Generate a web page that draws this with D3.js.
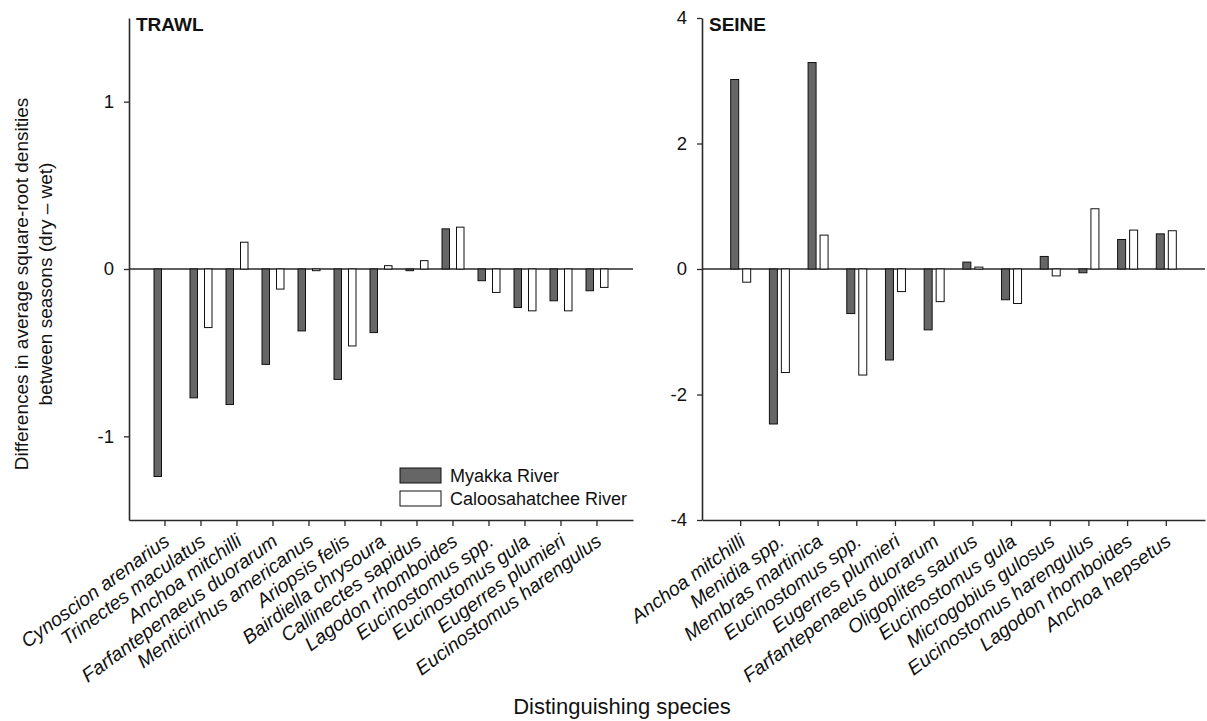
<!DOCTYPE html>
<html>
<head>
<meta charset="utf-8">
<script src="https://cdn.jsdelivr.net/npm/d3@7/dist/d3.min.js"></script>
<style>
  html, body { margin: 0; padding: 0; background: #fff; }
  svg { display: block; font-family: "Liberation Sans", Arial, sans-serif; }
</style>
</head>
<body>
<svg id="chart" width="1207" height="721"></svg>
<script>
// ---------- DATA ----------
const seriesNames = ["Myakka River", "Caloosahatchee River"];

const trawlSpecies = ["Cynoscion arenarius", "Trinectes maculatus", "Anchoa mitchilli",
  "Farfantepenaeus duorarum", "Menticirrhus americanus", "Ariopsis felis",
  "Bairdiella chrysoura", "Callinectes sapidus", "Lagodon rhomboides",
  "Eucinostomus spp.", "Eucinostomus gula", "Eugerres plumieri", "Eucinostomus harengulus"];
const trawlMyakka = [-1.24, -0.77, -0.81, -0.57, -0.37, -0.66, -0.38, -0.01, 0.24, -0.07, -0.23, -0.19, -0.13];
const trawlCaloosa = [null, -0.35, 0.16, -0.12, -0.01, -0.46, 0.02, 0.05, 0.25, -0.14, -0.25, -0.25, -0.11];
const trawlTicks = [-1, 0, 1];
const trawlTickLabels = ["-1", "0", "1"];

const seineSpecies = ["Anchoa mitchilli", "Menidia spp.", "Membras martinica",
  "Eucinostomus spp.", "Eugerres plumieri", "Farfantepenaeus duorarum",
  "Oligoplites saurus", "Eucinostomus gula", "Microgobius gulosus",
  "Eucinostomus harengulus", "Lagodon rhomboides", "Anchoa hepsetus"];
const seineMyakka = [3.02, -2.47, 3.29, -0.71, -1.45, -0.97, 0.11, -0.49, 0.20, -0.06, 0.47, 0.56];
const seineCaloosa = [-0.21, -1.65, 0.54, -1.69, -0.36, -0.52, 0.03, -0.55, -0.11, 0.96, 0.62, 0.61];
const seineTicks = [-4, -2, 0, 2, 4];
const seineTickLabels = ["-4", "-2", "0", "2", "4"];

// ---------- DRAW ----------
const svg = d3.select("#chart");
const AXIS = "#2a2a2a";
const DARK = "#666666";
const plotTop = 18, plotBottom = 520;

function panel(opts) {
  const g = svg.append("g");
  const x = d3.scaleBand().domain(opts.species).range([opts.x0, opts.x1])
    .paddingOuter(0.5).paddingInner(0);
  const y = d3.scaleLinear().domain(opts.yDomain).range([plotBottom, plotTop]);
  const sub = d3.scaleBand().domain(seriesNames).range(opts.subRange).paddingInner(opts.subPad);

  const rows = opts.species.map((s, i) => ({ s, vals: [opts.a[i], opts.b[i]] }));
  // zero line
  g.append("line")
    .attr("x1", opts.x0).attr("x2", opts.x1)
    .attr("y1", y(0)).attr("y2", y(0))
    .attr("stroke", AXIS).attr("stroke-width", 1.3);

  const grp = g.selectAll("g.cat").data(rows).join("g")
    .attr("transform", d => `translate(${x(d.s) + x.bandwidth() / 2},0)`);
  grp.selectAll("rect").data(d => d.vals.map((v, k) => ({ v, k })).filter(e => e.v !== null))
    .join("rect")
    .attr("x", e => sub(seriesNames[e.k]))
    .attr("width", sub.bandwidth())
    .attr("y", e => Math.min(y(e.v), y(0)))
    .attr("height", e => Math.max(1, Math.abs(y(e.v) - y(0))))
    .attr("fill", e => e.k === 0 ? DARK : "#ffffff")
    .attr("stroke", "#111").attr("stroke-width", 1);

  // y axis
  const ya = g.append("g").attr("transform", `translate(${opts.x0},0)`)
    .call(d3.axisLeft(y).tickValues(opts.ticks)
      .tickFormat((d, i) => opts.tickLabels[i]).tickSize(5).tickSizeOuter(0).tickPadding(10));
  ya.select(".domain").attr("stroke", AXIS).attr("stroke-width", 1.6);
  ya.selectAll(".tick line").attr("stroke", AXIS).attr("stroke-width", 1.3);
  ya.selectAll(".tick text").attr("font-size", 18.5).attr("fill", "#111")
    .attr("font-family", "Liberation Sans, Arial, sans-serif");

  // x axis
  const xa = g.append("g").attr("transform", `translate(0,${plotBottom})`)
    .call(d3.axisBottom(x).tickSize(6).tickSizeOuter(0));
  xa.select(".domain").attr("stroke", AXIS).attr("stroke-width", 1.6);
  xa.selectAll(".tick line").attr("stroke", AXIS).attr("stroke-width", 1.3);
  xa.selectAll(".tick text")
    .attr("font-size", 19.5).attr("fill", "#111")
    .attr("font-family", "Liberation Sans, Arial, sans-serif")
    .attr("font-style", "italic")
    .attr("text-anchor", "end")
    .attr("x", 0).attr("y", 0).attr("dy", 0)
    .attr("transform", "translate(6,24) rotate(-36)");

  // title
  g.append("text").attr("x", opts.x0 + 7).attr("y", 31)
    .attr("font-size", 19).attr("font-weight", "bold").attr("fill", "#111")
    .text(opts.title);
  return { x, y };
}

panel({ species: trawlSpecies, a: trawlMyakka, b: trawlCaloosa, x0: 129, x1: 633,
  yDomain: [-1.5, 1.5], ticks: trawlTicks, tickLabels: trawlTickLabels,
  subRange: [-11, 11], subPad: 0.483, title: "TRAWL" });
panel({ species: seineSpecies, a: seineMyakka, b: seineCaloosa, x0: 702, x1: 1205,
  yDomain: [-4, 4], ticks: seineTicks, tickLabels: seineTickLabels,
  subRange: [-10, 10], subPad: 0.333, title: "SEINE" });

// legend
const leg = svg.append("g").attr("transform", "translate(400,468)");
seriesNames.forEach((n, i) => {
  leg.append("rect").attr("x", 0).attr("y", i * 23).attr("width", 41).attr("height", 15)
    .attr("fill", i === 0 ? DARK : "#fff").attr("stroke", "#111").attr("stroke-width", 1);
  leg.append("text").attr("x", 50).attr("y", i * 23 + 14)
    .attr("font-size", 18).attr("fill", "#111").text(n);
});

// axis titles
const yt = svg.append("text").attr("transform", "translate(28,284) rotate(-90)")
  .attr("text-anchor", "middle").attr("font-size", 19).attr("fill", "#111");
yt.append("tspan").attr("x", 0).attr("y", 0).text("Differences in average square-root densities");
yt.append("tspan").attr("x", 0).attr("y", 24).text("between seasons (dry \u2013 wet)");

svg.append("text").attr("x", 622).attr("y", 714).attr("text-anchor", "middle")
  .attr("font-size", 22).attr("fill", "#111").text("Distinguishing species");
</script>
</body>
</html>
